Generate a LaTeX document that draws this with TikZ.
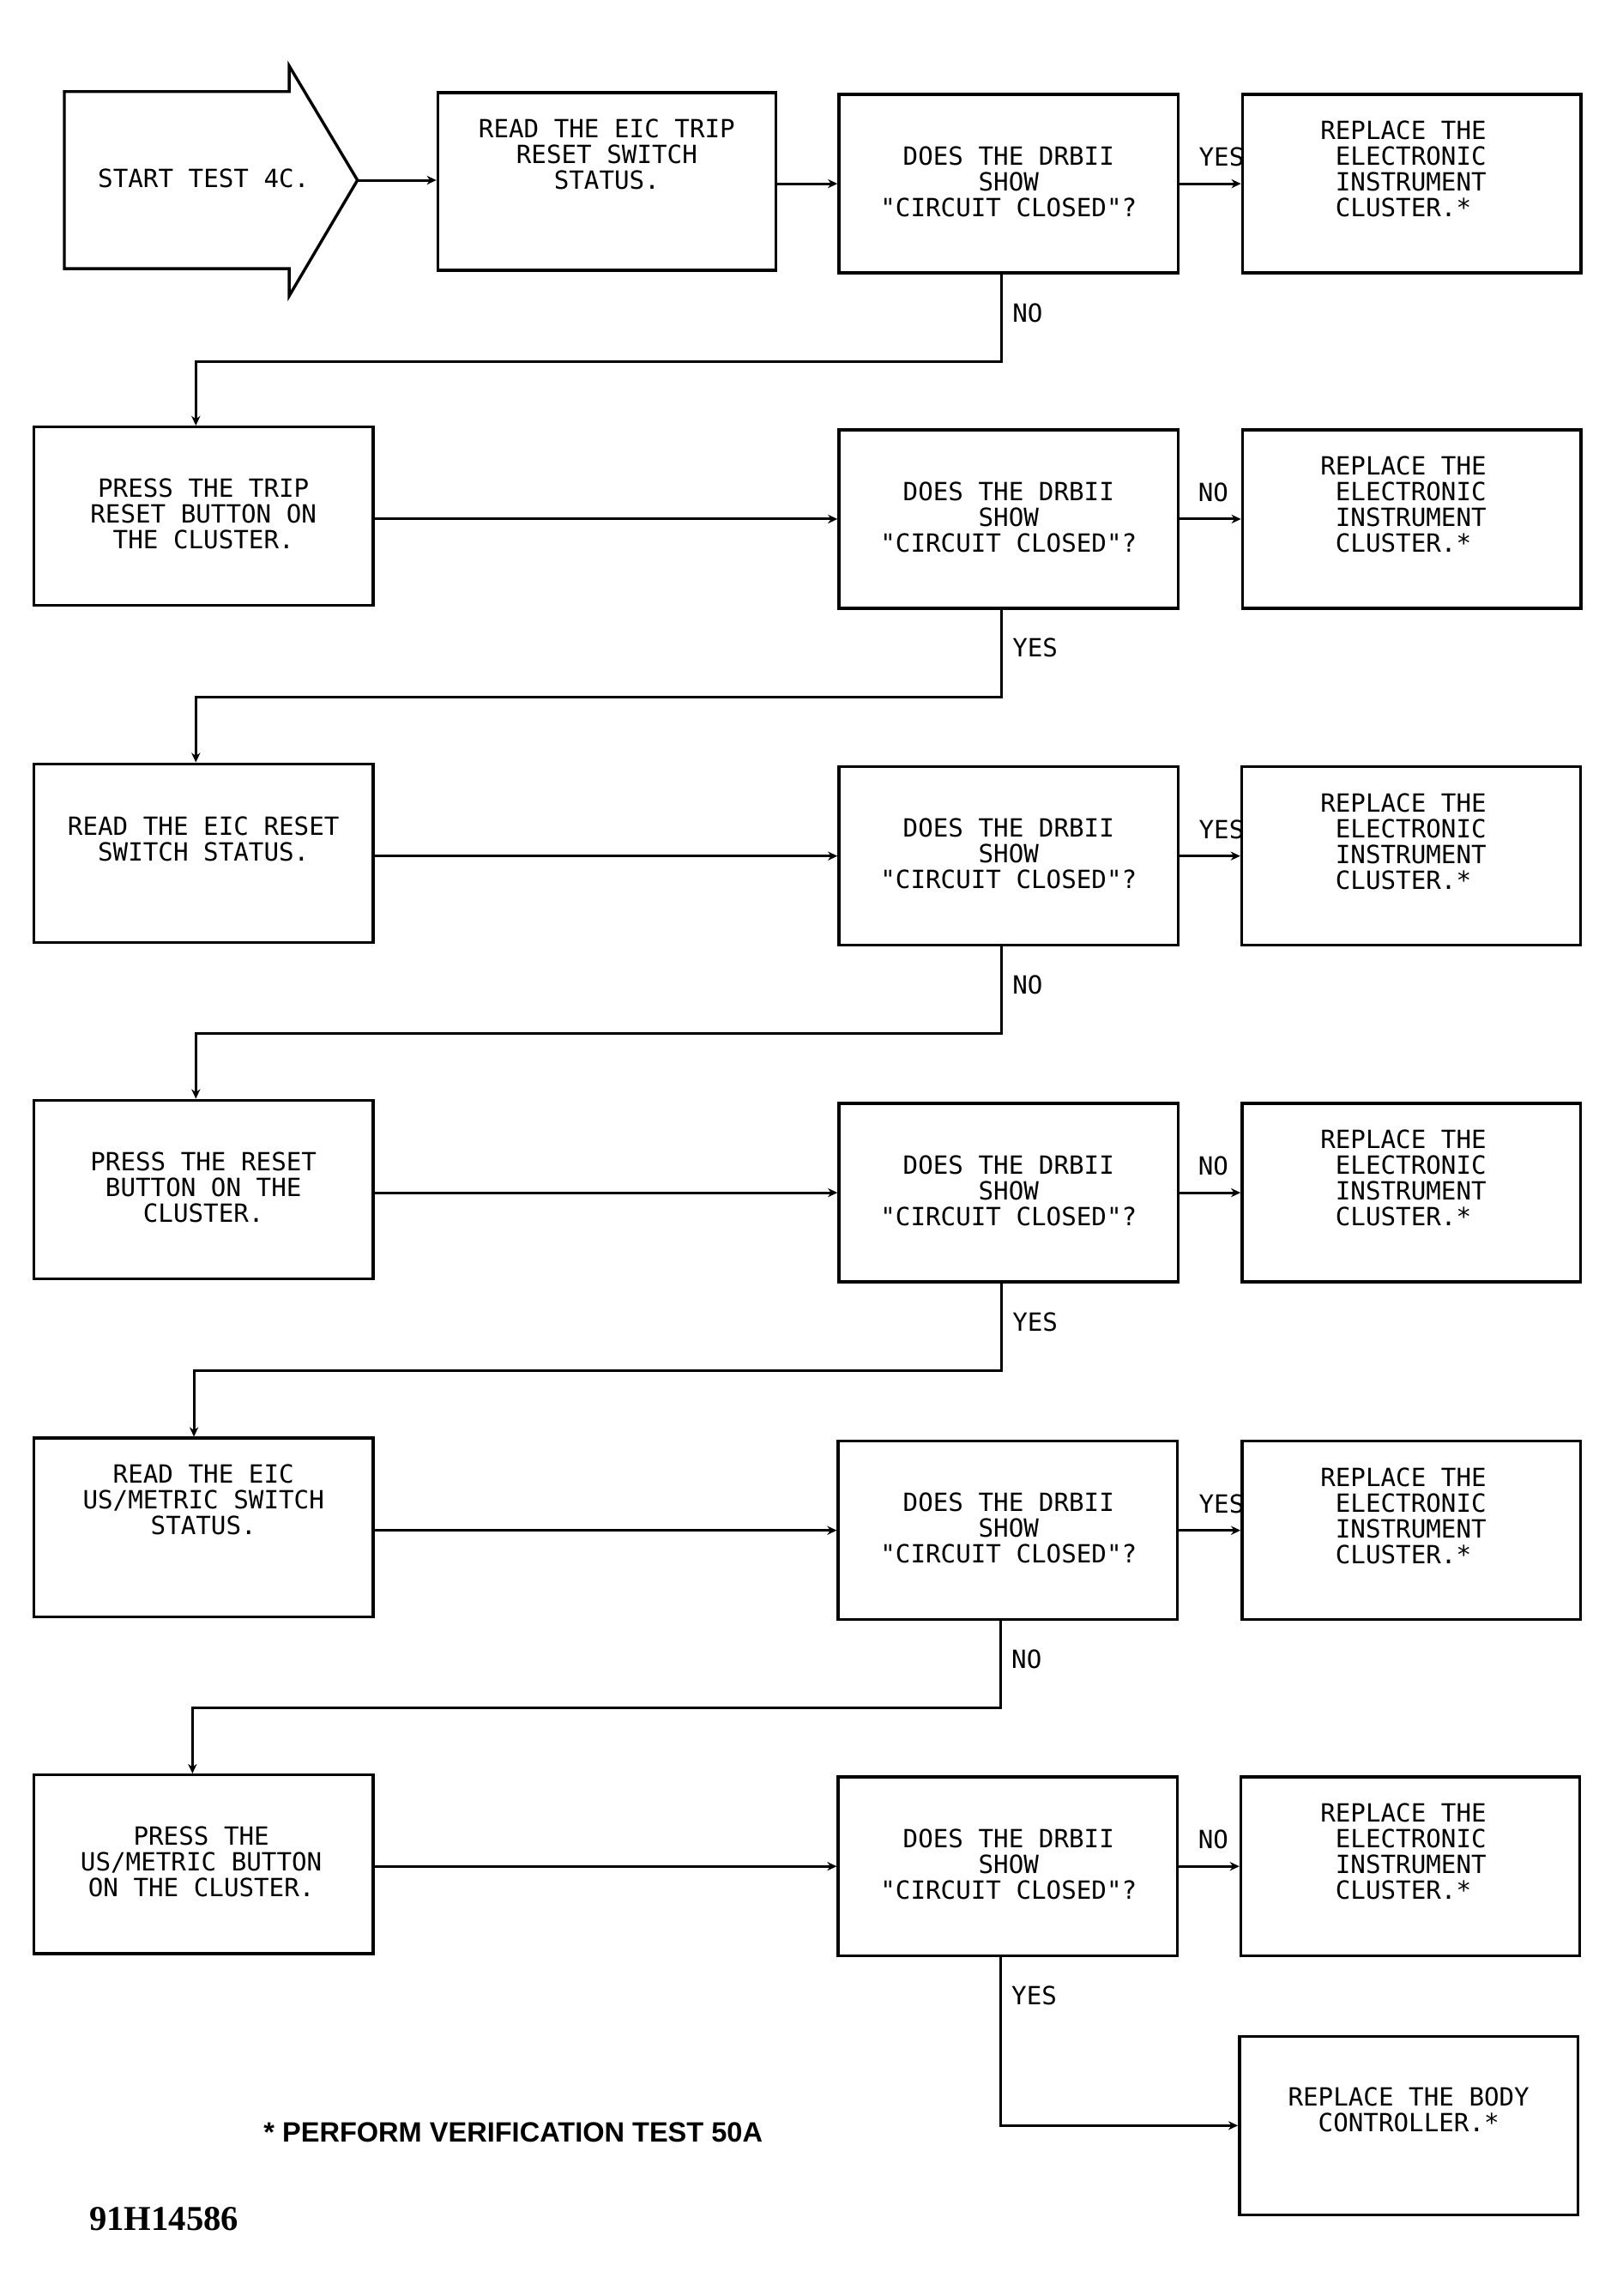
\documentclass[tikz,border=0pt]{standalone}
\usepackage{fontspec}
\newfontfamily\plotfont{DejaVu Sans Mono}
\newfontfamily\notefont{Liberation Sans}
\newfontfamily\idfont{Liberation Serif}
\usetikzlibrary{arrows.meta}
\begin{document}
\begin{tikzpicture}[x=0.4pt,y=-0.4pt,
  box/.style={draw, line width=0.8pt, inner sep=0pt, minimum width=92.4pt, minimum height=48.6pt},
  rbox/.style={box, minimum width=92.2pt},
  txt/.style={font={\plotfont\fontsize{6.82pt}{7pt}\selectfont}, inner sep=0pt, align=center},
  txtl/.style={txt, align=left},
  lbl/.style={font={\plotfont\fontsize{6.82pt}{7pt}\selectfont}, inner sep=0pt, anchor=base west},
  conn/.style={line width=0.7pt, -{Stealth[length=2.6pt,width=2.4pt]}},
  wire/.style={line width=0.7pt}]
\useasboundingbox (0,0) rectangle (1100,1562.4);

% start arrow
\draw[line width=0.8pt, line join=miter] (43.8,62.3) -- (196.8,62.3) -- (196.8,44.8) -- (243.3,122.6) -- (196.8,201.4) -- (196.8,182.8) -- (43.8,182.8) -- cycle;
\coordinate (starttip) at (243.3,122.6);
\node[txt, anchor=base west] (start) at (66.2,127.5) {START TEST 4C.};

% boxes
\node[box, minimum width=92pt, minimum height=48.4pt] (a1) at (413,123.5) {};
\node[box] (a2) at (138.5,351.3) {};
\node[box] (a3) at (138.5,580.5) {};
\node[box] (a4) at (138.5,809.4) {};
\node[box] (a5) at (138.5,1039.4) {};
\node[box] (a6) at (138.5,1268.6) {};

\node[box] (d1) at (686.5,125) {};
\node[box] (d2) at (686.5,353.2) {};
\node[box] (d3) at (686.5,582.5) {};
\node[box] (d4) at (686.5,811.6) {};
\node[box] (d5) at (686,1041.4) {};
\node[box] (d6) at (686,1270) {};

\node[rbox] (r1) at (960.9,125) {};
\node[rbox] (r2) at (960.9,353.2) {};
\node[rbox] (r3) at (960.4,582.5) {};
\node[rbox] (r4) at (960.6,811.6) {};
\node[rbox] (r5) at (960.6,1041.4) {};
\node[rbox] (r6) at (959.8,1270) {};
\node[rbox] (body) at (958.8,1446.4) {};

% texts
\node[txt] (ta1) at (413,105.1) {READ THE EIC TRIP\\RESET SWITCH\\STATUS.};
\node[txt] (ta2) at (138.5,349.8) {PRESS THE TRIP\\RESET BUTTON ON\\THE CLUSTER.};
\node[txt] (ta3) at (138.5,571) {READ THE EIC RESET\\SWITCH STATUS.};
\node[txt] (ta4) at (138.5,808) {PRESS THE RESET\\BUTTON ON THE\\CLUSTER.};
\node[txt] (ta5) at (138.5,1020.4) {READ THE EIC\\US/METRIC SWITCH\\STATUS.};
\node[txt] (ta6) at (137,1266.6) {PRESS THE\\US/METRIC BUTTON\\ON THE CLUSTER.};

\foreach \k/\yy in {1/125,2/353.2,3/582.5,4/811.6,5/1041.4,6/1270}{
  \node[txt] (td\k) at (686.5,\yy-1.4) {DOES THE DRBII\\SHOW\\"CIRCUIT CLOSED"?};
  \node[txtl] (tr\k) at (955.2,\yy-10) {REPLACE THE\\\phantom{R}ELECTRONIC\\\phantom{R}INSTRUMENT\\\phantom{R}CLUSTER.*};
}
\node[txt] (tbody) at (958.8,1435.7) {REPLACE THE BODY\\CONTROLLER.*};

% connectors
\draw[conn] (starttip) -- (starttip -| a1.west);
\draw[conn] (a1.east |- d1.west) -- (d1.west);
\foreach \k in {2,...,6}{
  \draw[conn] (d\k.west -| a\k.east) -- (d\k.west);
}
\foreach \k in {1,...,6}{
  \draw[conn] (d\k.east) -- (r\k.west);
}

\coordinate (h1) at (133.3,246);
\coordinate (h2) at (133.3,474.3);
\coordinate (h3) at (133.3,703);
\coordinate (h4) at (132,932.7);
\coordinate (h5) at (131,1162);
\draw[conn] ([xshift=-1.92pt]d1.south) |- (h1) -- (h1 |- a2.north);
\draw[conn] ([xshift=-1.92pt]d2.south) |- (h2) -- (h2 |- a3.north);
\draw[conn] ([xshift=-1.92pt]d3.south) |- (h3) -- (h3 |- a4.north);
\draw[conn] ([xshift=-1.92pt]d4.south) |- (h4) -- (h4 |- a5.north);
\draw[conn] ([xshift=-1.92pt]d5.south) |- (h5) -- (h5 |- a6.north);
\draw[conn] ([xshift=-1.92pt]d6.south) |- (body.west);

% labels
\node[lbl] (l1r) at (815.5,113) {YES};
\node[lbl] (l1d) at (688.6,219) {NO};
\node[lbl] (l2r) at (815,341.2) {NO};
\node[lbl] (l2d) at (688.6,447.2) {YES};
\node[lbl] (l3r) at (815.5,570.5) {YES};
\node[lbl] (l3d) at (688.6,676.5) {NO};
\node[lbl] (l4r) at (815,799.6) {NO};
\node[lbl] (l4d) at (688.6,905.6) {YES};
\node[lbl] (l5r) at (815.5,1029.4) {YES};
\node[lbl] (l5d) at (688,1135.4) {NO};
\node[lbl] (l6r) at (815,1258) {NO};
\node[lbl] (l6d) at (688,1364) {YES};

% notes
\node[anchor=base west, inner sep=0pt, font={\notefont\bfseries\fontsize{7.6pt}{9pt}\selectfont}] (note) at (179,1457.7) {* PERFORM VERIFICATION TEST 50A};
\node[anchor=base west, inner sep=0pt, font={\idfont\bfseries\fontsize{9.5pt}{11pt}\selectfont}] (figid) at (60.3,1518) {91H14586};
\end{tikzpicture}
\end{document}
